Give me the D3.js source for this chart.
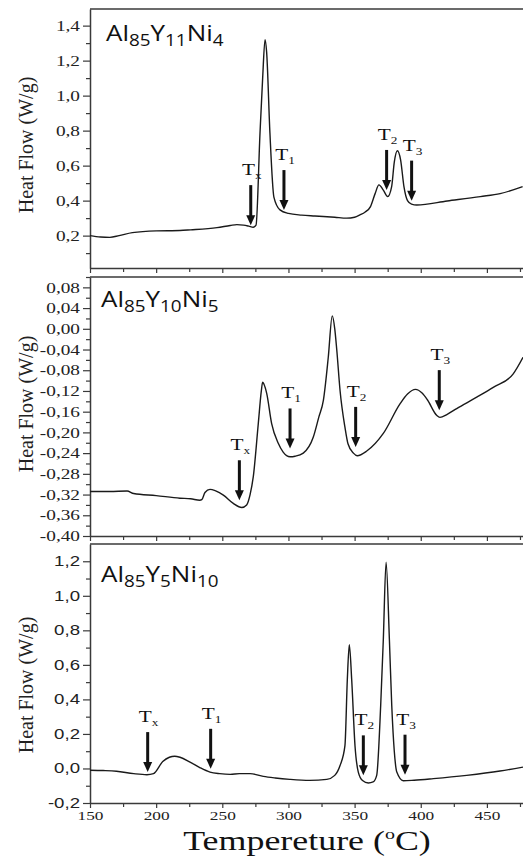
<!DOCTYPE html>
<html>
<head>
<meta charset="utf-8">
<script src="https://cdn.jsdelivr.net/npm/d3@7"></script>
<style>
body { margin: 0; background: #fff; }
</style>
</head>
<body>
<script>
var w = 523;
var h = 859;
var sx = 1.33; // the figure is stretched sideways, text too

// x axis
var xTicks = [150, 200, 250, 300, 350, 400, 450];
var xMinor = [175, 225, 275, 325, 375, 425, 475];

// Al85Y11Ni4
var name1 = ["Al", "85", "Y", "11", "Ni", "4"];
var temp1 = [150, 158, 165, 172, 182, 200, 218, 226, 246, 256, 261, 266, 270, 273.4, 275.5, 278.5, 280.5, 282.3, 283.5, 286, 289, 293.6, 300, 310, 320, 335, 344, 350, 354, 358, 362, 365.5, 368.4, 371.7, 375, 378, 380, 382.3, 384.8, 387.3, 390, 393, 397, 420, 445, 460, 477];
var flow1 = [0.200, 0.192, 0.190, 0.200, 0.217, 0.227, 0.229, 0.233, 0.246, 0.258, 0.263, 0.260, 0.254, 0.248, 0.26, 0.786, 1.10, 1.32, 1.25, 0.786, 0.42, 0.347, 0.327, 0.317, 0.312, 0.305, 0.300, 0.305, 0.318, 0.335, 0.366, 0.44, 0.49, 0.46, 0.423, 0.48, 0.62, 0.685, 0.632, 0.48, 0.40, 0.38, 0.375, 0.398, 0.423, 0.44, 0.48];
var yTicks1 = [0.2, 0.4, 0.6, 0.8, 1.0, 1.2, 1.4];
var yMinor1 = [0.1, 0.3, 0.5, 0.7, 0.9, 1.1, 1.3];
var arrowT1 = [271.5, 296.6, 374.2, 393.1];
var arrowV1 = [0.26, 0.346, 0.461, 0.40];

// Al85Y10Ni5
var name2 = ["Al", "85", "Y", "10", "Ni", "5"];
var temp2 = [150, 165, 178, 183, 200, 218, 226, 233, 234.5, 236.9, 240.7, 245, 250.8, 258.3, 264.7, 268.4, 271, 273.4, 277.2, 279.5, 280.5, 281.5, 283.6, 287.3, 292.3, 296, 301.2, 305, 311.2, 318.8, 323, 326.4, 330.1, 333.1, 335, 336.5, 339, 342.7, 345, 349.1, 352, 359.2, 371.7, 384.3, 390, 396, 401, 405, 412, 414.5, 420, 427.2, 442.3, 454.8, 469.9, 477.3];
var flow2 = [-0.314, -0.314, -0.313, -0.318, -0.322, -0.327, -0.328, -0.331, -0.330, -0.316, -0.310, -0.313, -0.321, -0.337, -0.345, -0.340, -0.320, -0.286, -0.183, -0.120, -0.103, -0.107, -0.125, -0.183, -0.221, -0.238, -0.247, -0.246, -0.240, -0.209, -0.17, -0.138, -0.055, 0.025, 0.0, -0.04, -0.119, -0.19, -0.222, -0.240, -0.245, -0.236, -0.202, -0.145, -0.126, -0.117, -0.124, -0.137, -0.167, -0.171, -0.165, -0.154, -0.132, -0.113, -0.087, -0.055];
var yTicks2 = [-0.40, -0.36, -0.32, -0.28, -0.24, -0.20, -0.16, -0.12, -0.08, -0.04, 0.00, 0.04, 0.08];
var yMinor2 = [-0.38, -0.34, -0.30, -0.26, -0.22, -0.18, -0.14, -0.10, -0.06, -0.02, 0.02, 0.06, 0.10];
var arrowT2 = [262.9, 301.2, 350.8, 414];
var arrowV2 = [-0.331, -0.231, -0.228, -0.157];

// Al85Y5Ni10
var name3 = ["Al", "85", "Y", "5", "Ni", "10"];
var temp3 = [150, 160, 170, 183, 193, 198, 205, 210, 214, 218, 225.6, 233, 240.7, 248, 256, 263, 271, 281, 290, 301, 316, 329, 335, 339, 342.7, 344.5, 346, 347.8, 350.3, 352.8, 356, 360.4, 364, 366.7, 369.7, 371.7, 373.8, 376.3, 378.1, 380, 381.9, 386.8, 395, 409.5, 434.7, 459.9, 477.3];
var flow3 = [-0.010, -0.012, -0.016, -0.030, -0.036, -0.030, 0.040, 0.065, 0.071, 0.065, 0.037, 0.005, -0.021, -0.030, -0.034, -0.030, -0.030, -0.046, -0.055, -0.063, -0.069, -0.063, -0.04, 0.017, 0.132, 0.515, 0.717, 0.515, 0.132, -0.021, -0.07, -0.084, -0.078, -0.040, 0.362, 0.745, 1.195, 0.745, 0.362, 0.1, -0.021, -0.071, -0.068, -0.059, -0.040, -0.015, 0.008];
var yTicks3 = [-0.2, 0.0, 0.2, 0.4, 0.6, 0.8, 1.0, 1.2];
var yMinor3 = [-0.1, 0.1, 0.3, 0.5, 0.7, 0.9, 1.1];
var arrowT3 = [193.6, 241.2, 356.6, 388.1];
var arrowV3 = [-0.021, -0.002, -0.04, -0.036];

var arrowSubs = ["x", "1", "2", "3"];

var serif = "'Liberation Serif', 'Times New Roman', serif";
var sans = "'Liberation Sans', Arial, sans-serif";

var loc = d3.formatLocale({decimal: ",", thousands: ".", grouping: [3], currency: ["", ""], minus: "-"});

var panels = [
    {top: 9, domain: [0.015, 1.495], ticks: yTicks1, minor: yMinor1, fmt: loc.format(".1f"), font: serif,
     name: name1, nameX: 106, nameY: 41, temp: temp1, flow: flow1, aT: arrowT1, aV: arrowV1, titleY: 145},
    {top: 277, domain: [-0.40, 0.10], ticks: yTicks2, minor: yMinor2, fmt: loc.format(".2f"), font: serif,
     name: name2, nameX: 101, nameY: 307, temp: temp2, flow: flow2, aT: arrowT2, aV: arrowV2, titleY: 404},
    {top: 544, domain: [-0.2, 1.3], ticks: yTicks3, minor: yMinor3, fmt: loc.format(".1f"), font: sans,
     name: name3, nameX: 101, nameY: 582, temp: temp3, flow: flow3, aT: arrowT3, aV: arrowV3, titleY: 685}
];
var ph = 259;

var x = d3.scaleLinear().domain([150, 480]).range([90, 90 + 330 * 1.323]);

var svg = d3.select("body")
            .append("svg")
            .attr("width", w)
            .attr("height", h);

svg.append("defs").append("clipPath")
    .attr("id", "clip")
    .append("rect")
    .attr("x", 90).attr("y", 0)
    .attr("width", w - 90).attr("height", h);

panels.forEach(function(p, k) {
    var y = d3.scaleLinear().domain(p.domain).range([p.top + ph, p.top]);
    var g = svg.append("g");

    // frame: top line
    g.append("line")
        .attr("x1", x.range()[0]).attr("x2", x.range()[1])
        .attr("y1", p.top).attr("y2", p.top)
        .attr("stroke", "#3a3a3a").attr("stroke-width", 1.5);

    // bottom x axis
    var xa = g.append("g")
        .attr("transform", "translate(0," + (p.top + ph) + ")")
        .call(d3.axisBottom(x).tickValues(xTicks).tickSize(5).tickSizeOuter(0)
            .tickFormat(k === 2 ? d3.format("d") : ""));
    g.append("g")
        .attr("transform", "translate(0," + (p.top + ph) + ")")
        .call(d3.axisBottom(x).tickValues(xMinor).tickSize(4).tickSizeOuter(0).tickFormat(""))
        .select(".domain").remove();
    xa.select(".domain").attr("stroke", "#3a3a3a").attr("stroke-width", 1.5);
    xa.selectAll("text")
        .attr("font-family", serif)
        .attr("font-size", "13px")
        .attr("fill", "#222")
        .attr("y", 8)
        .attr("transform", "scale(" + sx + ",1)");

    // left y axis
    var ya = g.append("g")
        .attr("transform", "translate(90,0)")
        .call(d3.axisLeft(y).tickValues(p.ticks).tickSize(7).tickSizeOuter(0).tickFormat(p.fmt));
    g.append("g")
        .attr("transform", "translate(90,0)")
        .call(d3.axisLeft(y).tickValues(p.minor).tickSize(4).tickSizeOuter(0).tickFormat(""))
        .select(".domain").remove();
    ya.select(".domain").attr("stroke", "#3a3a3a").attr("stroke-width", 1.5);
    ya.selectAll("text")
        .attr("font-family", p.font)
        .attr("font-size", p.font === serif ? "14.5px" : "14px")
        .attr("fill", "#222")
        .attr("x", -10 / sx)
        .attr("transform", "scale(" + sx + ",1)");
    svg.selectAll(".tick line").attr("stroke", "#3a3a3a").attr("stroke-width", 1.2);

    // curve
    var line = d3.line()
        .x(function(d) { return x(d[0]); })
        .y(function(d) { return y(d[1]); })
        .curve(d3.curveMonotoneX);
    g.append("path")
        .datum(d3.zip(p.temp, p.flow))
        .attr("clip-path", "url(#clip)")
        .attr("d", line)
        .attr("fill", "none")
        .attr("stroke", "#1a1a1a")
        .attr("stroke-width", 1.4);

    // arrows
    p.aT.forEach(function(t, i) {
        var ax = x(t), ay = y(p.aV[i]);
        g.append("line")
            .attr("x1", ax).attr("x2", ax)
            .attr("y1", ay - 40).attr("y2", ay - 8)
            .attr("stroke", "#111").attr("stroke-width", 3);
        g.append("path")
            .attr("d", "M" + (ax - 4.5) + "," + (ay - 10) + "L" + (ax + 4.5) + "," + (ay - 10) + "L" + ax + "," + ay + "Z")
            .attr("fill", "#111");
        var lt = g.append("text")
            .attr("transform", "translate(" + (ax + 1) + "," + (ay - 50) + ") scale(" + sx + ",1)")
            .attr("text-anchor", "middle")
            .attr("font-family", serif)
            .attr("font-size", "16px")
            .attr("fill", "#111");
        lt.append("tspan").text("T");
        lt.append("tspan").attr("dy", 4).attr("font-size", "10px").text(arrowSubs[i]);
    });

    // panel name with subscripts
    var nt = g.append("text")
        .attr("transform", "translate(" + p.nameX + "," + p.nameY + ") scale(1.18,1)")
        .attr("font-family", "'Open Sans', sans-serif")
        .attr("font-size", "22px")
        .attr("fill", "#111");
    p.name.forEach(function(s, i) {
        if (i % 2 === 0) {
            nt.append("tspan").attr("dy", i === 0 ? 0 : -5).text(s);
        } else {
            nt.append("tspan").attr("dy", 5).attr("font-size", "16px").text(s);
        }
    });

    // y title
    g.append("text")
        .attr("transform", "translate(33," + p.titleY + ") rotate(-90)")
        .attr("text-anchor", "middle")
        .attr("font-family", serif)
        .attr("font-size", "20px")
        .attr("fill", "#222")
        .text("Heat Flow (W/g)");
});

// x title
var xt = svg.append("text")
    .attr("transform", "translate(307,850) scale(" + sx + ",1)")
    .attr("text-anchor", "middle")
    .attr("font-family", serif)
    .attr("font-size", "27px")
    .attr("fill", "#111");
xt.append("tspan").text("Tempereture (");
xt.append("tspan").attr("dy", -11).attr("font-size", "15px").text("o");
xt.append("tspan").attr("dy", 11).text("C)");
</script>
</body>
</html>
